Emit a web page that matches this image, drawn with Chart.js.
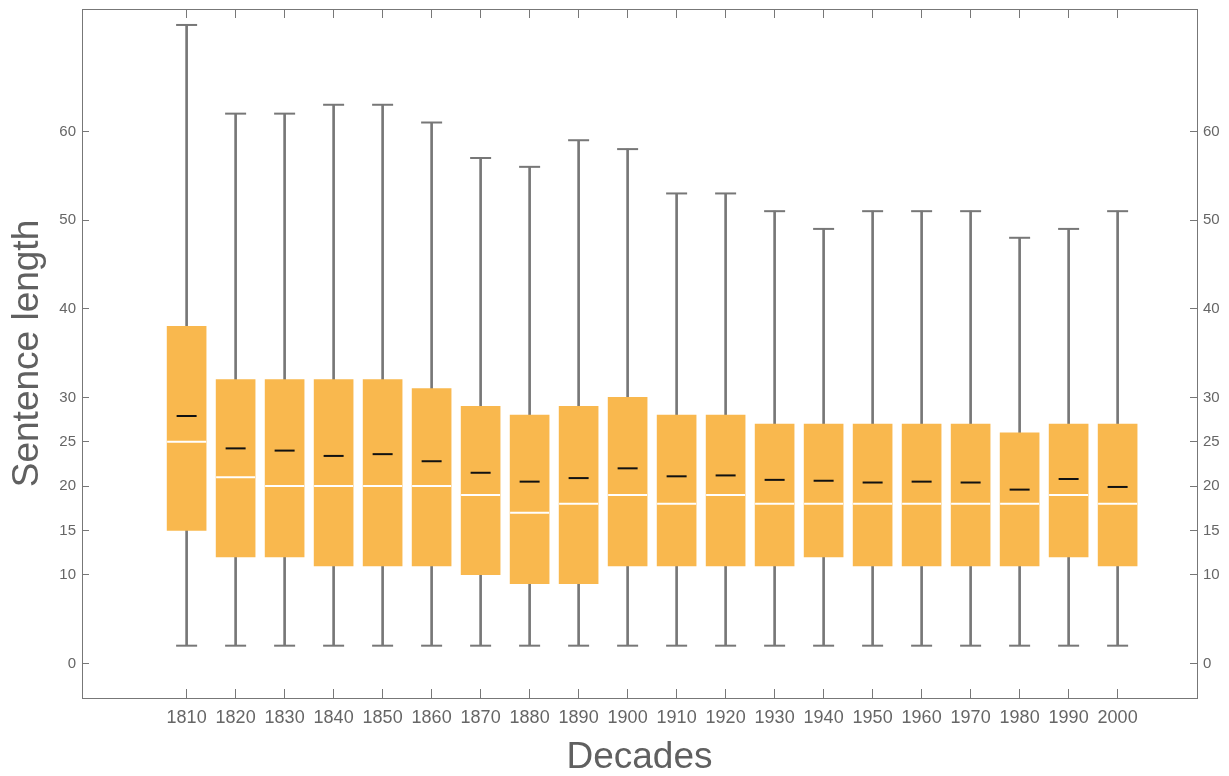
<!DOCTYPE html>
<html>
<head>
<meta charset="utf-8">
<script src="https://cdn.jsdelivr.net/npm/chart.js@4/dist/chart.umd.min.js"></script>
<style>
  body { margin: 0; background: #fff; }
  #wrap { width: 1229px; height: 776px; }
</style>
</head>
<body>
<div id="wrap"><canvas id="myChart"></canvas></div>
<script>
// decades on the x axis
var decades = [1810, 1820, 1830, 1840, 1850, 1860, 1870, 1880, 1890, 1900,
               1910, 1920, 1930, 1940, 1950, 1960, 1970, 1980, 1990, 2000];
// box plot values
var whiskerLow  = [2, 2, 2, 2, 2, 2, 2, 2, 2, 2, 2, 2, 2, 2, 2, 2, 2, 2, 2, 2];
var whiskerHigh = [72, 62, 62, 63, 63, 61, 57, 56, 59, 58, 53, 53, 51, 49, 51, 51, 51, 48, 49, 51];
var q1          = [15, 12, 12, 11, 11, 11, 10, 9, 9, 11, 11, 11, 11, 12, 11, 11, 11, 11, 12, 11];
var q3          = [38, 32, 32, 32, 32, 31, 29, 28, 29, 30, 28, 28, 27, 27, 27, 27, 27, 26, 27, 27];
var medians     = [25, 21, 20, 20, 20, 20, 19, 17, 18, 19, 18, 19, 18, 18, 18, 18, 18, 18, 19, 18];
var means       = [27.9, 24.25, 24.0, 23.4, 23.6, 22.8, 21.5, 20.5, 20.9, 22.0,
                   21.1, 21.2, 20.7, 20.6, 20.4, 20.5, 20.4, 19.6, 20.8, 19.9];
// tick values on the sentence length axis
var yTicks = [0, 10, 15, 20, 25, 30, 40, 50, 60];

var textColor = '#666666';
var lineColor = '#777777';
var boxColor = '#F9B84E';

function pairs(values) {
    return decades.map(function (d, i) { return { x: d, y: values[i] }; });
}
function ranges(lo, hi) {
    return decades.map(function (d, i) { return { x: d, y: [lo[i], hi[i]] }; });
}
function setTicks(list) {
    return function (scale) {
        scale.ticks = list.map(function (v) { return { value: v }; });
    };
}
// fixed axis sizes so the plot frame sits where it does in the picture
function fixSize(prop, size) {
    return function (s) {
        s[prop] = size;
        s.paddingTop = 0; s.paddingBottom = 0;
        s.paddingLeft = 0; s.paddingRight = 0;
    };
}

var xRange = { min: 1788.65, max: 2016.2 };

function yAxis(pos, width) {
    return {
        type: 'linear',
        position: pos,
        min: -3.9,
        max: 73.8,
        afterBuildTicks: setTicks(yTicks),
        afterFit: fixSize('width', width),
        ticks: {
            padding: 13,
            color: textColor,
            font: { family: 'Liberation Sans, Arial, sans-serif', size: 15 },
            callback: function (v) { return String(v); }
        },
        grid: { drawOnChartArea: false, tickLength: -7, color: lineColor },
        border: { color: lineColor, width: 1 }
    };
}

function xAxis(pos, height) {
    return {
        type: 'linear',
        position: pos,
        min: xRange.min,
        max: xRange.max,
        offset: false,
        afterBuildTicks: setTicks(decades),
        afterFit: fixSize('height', height),
        ticks: {
            autoSkip: false,
            maxRotation: 0,
            padding: 18,
            color: textColor,
            font: { family: 'Liberation Sans, Arial, sans-serif', size: 18 },
            callback: function (v) { return String(v); }
        },
        grid: { drawOnChartArea: false, offset: false, tickLength: -9, color: lineColor },
        border: { color: lineColor, width: 1 }
    };
}

var yLeft = yAxis('left', 82);
yLeft.title = {
    display: true,
    text: 'Sentence length',
    color: '#606060',
    font: { family: 'Liberation Sans, Arial, sans-serif', size: 37, lineHeight: 1 },
    padding: { top: 9, bottom: 0 }
};
var yRight = yAxis('right', 32);

var xBottom = xAxis('bottom', 78);
xBottom.title = {
    display: true,
    text: 'Decades',
    color: '#606060',
    font: { family: 'Liberation Sans, Arial, sans-serif', size: 37, lineHeight: 1 },
    padding: 0
};
var xTop = xAxis('top', 9);
xTop.ticks.display = false;

new Chart(document.querySelector('#myChart'), {
    type: 'bar',
    data: {
        datasets: [
            {
                // whisker line from min to max
                type: 'bar',
                data: ranges(whiskerLow, whiskerHigh),
                backgroundColor: lineColor,
                barThickness: 2,
                grouped: false,
                order: 5
            },
            {
                type: 'bar',
                data: ranges(q1, q3),
                backgroundColor: boxColor,
                barThickness: 39,
                grouped: false,
                order: 4
            },
            {
                type: 'scatter',
                data: pairs(whiskerHigh).concat(pairs(whiskerLow)),
                pointStyle: 'line',
                radius: 10.5,
                borderColor: lineColor,
                borderWidth: 2,
                order: 3
            },
            {
                type: 'scatter',
                data: pairs(medians),
                pointStyle: 'line',
                radius: 19.5,
                borderColor: '#ffffff',
                borderWidth: 2,
                order: 2
            },
            {
                type: 'scatter',
                data: pairs(means),
                pointStyle: 'line',
                radius: 10,
                borderColor: '#111111',
                borderWidth: 2,
                order: 1
            }
        ]
    },
    options: {
        responsive: true,
        maintainAspectRatio: false,
        animation: false,
        events: [],
        layout: { padding: 0, autoPadding: false },
        plugins: { legend: { display: false }, tooltip: { enabled: false } },
        scales: {
            x: xBottom,
            xTop: xTop,
            y: yLeft,
            y2: yRight
        }
    }
});
</script>
</body>
</html>
